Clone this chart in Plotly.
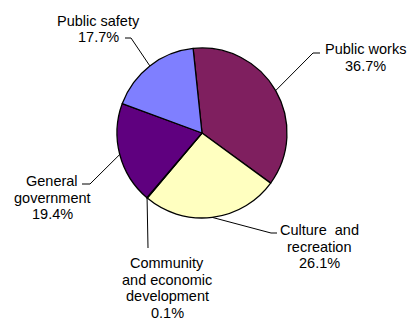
import math
import plotly.graph_objects as go

# ---- data ----
categories = ["Public works", "Culture and recreation",
              "Community and economic development",
              "General government", "Public safety"]
values = [36.7, 26.1, 0.1, 19.4, 17.7]
label_lines = [["Public works"], ["Culture  and", "recreation"],
               ["Community", "and economic", "development"],
               ["General", "government"], ["Public safety"]]
colors = ["#7F1F5F", "#FFFFC0", "#C0FFFF", "#5F007F", "#7F7FFF"]

# ---- layout constants (pixels) ----
W, H = 410, 320
CX, CY, R = 202, 133, 85
ROT = -6
FONT = 14.5
LSP = 16.5
# text centre x, first-line centre y, elbow point, end point
label_pos = [
    (365, 49, (313, 53), (320, 53)),
    (319, 230, (271, 233), (277, 233)),
    (167, 263, (148, 248), (148, 248)),
    (52, 181, (90, 184), (82, 184)),
    (98, 20.5, (131, 38), (125, 38)),
]

def px(x):
    return x / W

def py(y):
    return 1 - y / H

fig = go.Figure(go.Pie(
    labels=categories, values=values, sort=False, direction="clockwise",
    rotation=ROT, textinfo="none", hoverinfo="label+percent",
    marker=dict(colors=colors, line=dict(color="black", width=1.3)),
    domain=dict(x=[px(CX - R), px(CX + R)], y=[py(CY + R), py(CY - R)]),
    showlegend=False,
))

total = sum(values)
cum = 0.0
annotations = []
shapes = []
for v, lines, (tx, ty, elbow, end) in zip(values, label_lines, label_pos):
    mid = ROT + (cum + v / 2) / total * 360
    cum += v
    a = math.radians(mid)
    ex, ey = CX + R * math.sin(a), CY - R * math.cos(a)
    path = (f"M {px(ex)},{py(ey)} L {px(elbow[0])},{py(elbow[1])} "
            f"L {px(end[0])},{py(end[1])}")
    shapes.append(dict(type="path", xref="paper", yref="paper", path=path,
                       line=dict(color="black", width=1)))
    all_lines = lines + [f"{v / total * 100:.1f}%"]
    for i, t in enumerate(all_lines):
        annotations.append(dict(
            x=px(tx), y=py(ty + i * LSP), xref="paper", yref="paper",
            text=t, showarrow=False, xanchor="center", yanchor="middle",
            font=dict(family="Arial, Liberation Sans", size=FONT, color="black"),
        ))

fig.update_layout(
    width=W, height=H, margin=dict(l=0, r=0, t=0, b=0),
    paper_bgcolor="white", plot_bgcolor="white",
    annotations=annotations, shapes=shapes,
)

fig.write_html("out.html")
